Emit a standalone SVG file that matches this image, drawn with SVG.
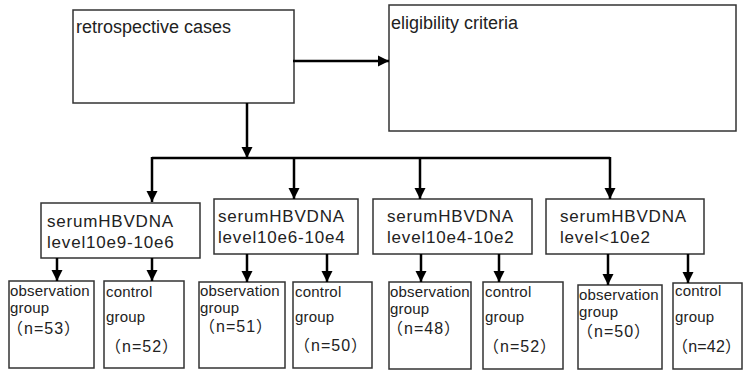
<svg xmlns="http://www.w3.org/2000/svg" width="743" height="372" viewBox="0 0 743 372">
<style>
.box{fill:#fff;stroke:#333;stroke-width:1.5}
.t{font-family:"Liberation Sans",Arial,"Noto Sans CJK SC",sans-serif;fill:#222}
.big{font-size:18px}
.mid{font-size:17px;letter-spacing:0.8px}
.sm{font-size:15px;letter-spacing:0.2px}
.n{font-size:16px;letter-spacing:1px}
.c{fill:none;stroke:#000;stroke-width:2.5}
</style>
<defs>
<marker id="ah" markerUnits="userSpaceOnUse" markerWidth="12" markerHeight="12" refX="11" refY="6" orient="auto">
<path d="M0,0.5 L11,6 L0,11.5 Z" fill="#000"/>
</marker>
</defs>
<rect width="743" height="372" fill="#fff"/>
<g id="n-retro"><rect class="box" x="73" y="10" width="221" height="93"/><text class="t big" x="76" y="33">retrospective cases</text></g>
<g id="n-elig"><rect class="box" x="389" y="5" width="347" height="126"/><text class="t big" x="391" y="29">eligibility criteria</text></g>
<g id="n-l1"><rect class="box" x="41" y="203" width="159" height="55"/><text class="t mid" x="47" y="227">serumHBVDNA</text><text class="t mid" x="47" y="248">level10e9-10e6</text></g>
<g id="n-l2"><rect class="box" x="214" y="199" width="144" height="55"/><text class="t mid" x="218" y="222">serumHBVDNA</text><text class="t mid" x="218" y="243">level10e6-10e4</text></g>
<g id="n-l3"><rect class="box" x="373" y="199" width="159" height="55"/><text class="t mid" x="387" y="222">serumHBVDNA</text><text class="t mid" x="387" y="243">level10e4-10e2</text></g>
<g id="n-l4"><rect class="box" x="546" y="199" width="158" height="55"/><text class="t mid" x="560" y="222">serumHBVDNA</text><text class="t mid" x="560" y="243">level&lt;10e2</text></g>
<g id="n-o1"><rect class="box" x="9" y="281" width="85" height="87"/><text class="t sm" x="10" y="296">observation</text><text class="t sm" x="10" y="313">group</text><text class="t n" x="7" y="334">（n=53）</text></g>
<g id="n-c1"><rect class="box" x="104" y="281" width="80" height="87"/><text class="t sm" x="106" y="297">control</text><text class="t sm" x="106" y="322">group</text><text class="t n" x="105" y="352">（n=52）</text></g>
<g id="n-o2"><rect class="box" x="199" y="282" width="86" height="86"/><text class="t sm" x="200" y="296">observation</text><text class="t sm" x="200" y="313">group</text><text class="t n" x="199" y="332">（n=51）</text></g>
<g id="n-c2"><rect class="box" x="293" y="282" width="79" height="86"/><text class="t sm" x="295" y="297">control</text><text class="t sm" x="295" y="322">group</text><text class="t n" x="294" y="351">（n=50）</text></g>
<g id="n-o3"><rect class="box" x="389" y="282" width="82" height="87"/><text class="t sm" x="390" y="297">observation</text><text class="t sm" x="390" y="314">group</text><text class="t n" x="387" y="334">（n=48）</text></g>
<g id="n-c3"><rect class="box" x="483" y="282" width="80" height="87"/><text class="t sm" x="485" y="297">control</text><text class="t sm" x="485" y="322">group</text><text class="t n" x="483" y="352">（n=52）</text></g>
<g id="n-o4"><rect class="box" x="578" y="285" width="84" height="84"/><text class="t sm" x="579" y="300">observation</text><text class="t sm" x="579" y="317">group</text><text class="t n" x="577" y="337">（n=50）</text></g>
<g id="n-c4"><rect class="box" x="673" y="283" width="69" height="86"/><text class="t sm" x="675" y="296">control</text><text class="t sm" x="675" y="322">group</text><text class="t n" x="672" y="352" style="letter-spacing:0.2px">（n=42）</text></g>
<g id="connectors">
<path class="c" d="M293 61 H389" marker-end="url(#ah)"/>
<path class="c" d="M247 103 V158" marker-end="url(#ah)"/>
<path class="c" d="M152 158 H610"/>
<path class="c" d="M152 157 V202" marker-end="url(#ah)"/>
<path class="c" d="M294 157 V199" marker-end="url(#ah)"/>
<path class="c" d="M420 157 V199" marker-end="url(#ah)"/>
<path class="c" d="M610 157 V199" marker-end="url(#ah)"/>
<path class="c" d="M57 258 V281" marker-end="url(#ah)"/>
<path class="c" d="M152 258 V281" marker-end="url(#ah)"/>
<path class="c" d="M247 254 V282" marker-end="url(#ah)"/>
<path class="c" d="M327 254 V282" marker-end="url(#ah)"/>
<path class="c" d="M421 254 V282" marker-end="url(#ah)"/>
<path class="c" d="M499 254 V282" marker-end="url(#ah)"/>
<path class="c" d="M608 254 V285" marker-end="url(#ah)"/>
<path class="c" d="M688 254 V283" marker-end="url(#ah)"/>
</g>
</svg>
